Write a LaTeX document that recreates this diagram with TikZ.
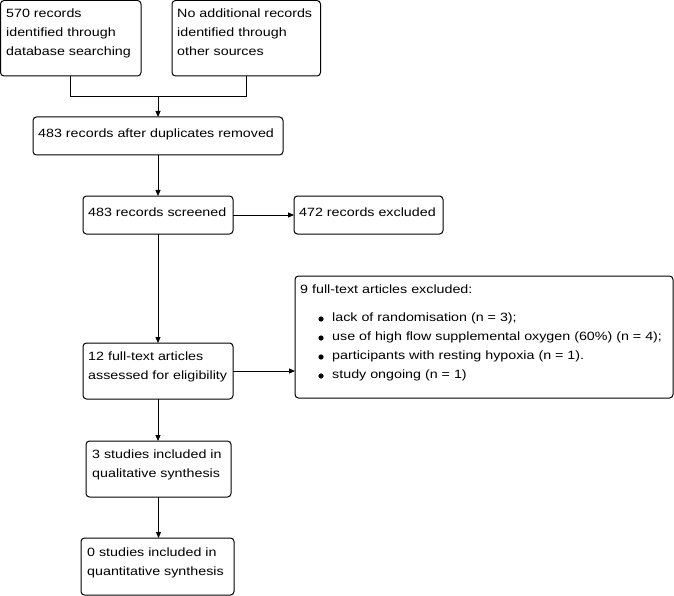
\documentclass[tikz,border=0pt]{standalone}
\usepackage{fontspec}
\setmainfont{Liberation Sans}[FakeStretch=1.19]
\usetikzlibrary{arrows.meta,calc}
\begin{document}
\begin{tikzpicture}[x=1pt,y=-1pt,
 box/.style={draw, line width=1pt, rounded corners=3.5pt, inner sep=0pt, outer sep=0pt, anchor=north west},
 txt/.style={inner sep=0pt, anchor=north west, align=left, font=\fontsize{12}{19}\selectfont,
   execute at begin node={\rule{0pt}{10pt}}},
 conn/.style={line width=1pt},
 arr/.style={line width=1pt, -{Triangle[length=6pt,width=5pt]}},
 bul/.style={fill=black}]
\useasboundingbox (0,0) rectangle (674,596);
% boxes
\node[box, minimum width=140.5pt, minimum height=75.5pt] (a) at (0.5,0.5) {};
\node[box, minimum width=148.5pt, minimum height=75.5pt] (b) at (172,0.5) {};
\node[box, minimum width=250pt, minimum height=38pt] (c) at (33,117) {};
\node[box, minimum width=150pt, minimum height=38pt] (d) at (83,196) {};
\node[box, minimum width=149pt, minimum height=38pt] (e) at (294,196) {};
\node[box, minimum width=150pt, minimum height=56pt] (f) at (83,343) {};
\node[box, minimum width=378pt, minimum height=122pt] (g) at (295,276) {};
\node[box, minimum width=145pt, minimum height=56pt] (h) at (86,441) {};
\node[box, minimum width=153pt, minimum height=57pt] (i) at (81,538) {};
% texts (first baseline = given y + 10)
\node[txt] (ta) at (6,9) {570 records\\identified through\\database searching};
\node[txt] (tb) at (177,9) {No additional records\\identified through\\other sources};
\node[txt] (tc) at (38,127) {483 records after duplicates removed};
\node[txt] (td) at (88,206) {483 records screened};
\node[txt] (te) at (299,206) {472 records excluded};
\node[txt] (tf) at (88,352) {12 full-text articles\\assessed for eligibility};
\node[txt] (tg) at (300,283) {9 full-text articles excluded:};
\node[txt] (tg1) at (332,313) {lack of randomisation (n = 3);\\use of high flow supplemental oxygen (60\%) (n = 4);\\participants with resting hypoxia (n = 1).\\study ongoing (n = 1)};
\node[txt] (th) at (92,450) {3 studies included in\\qualitative synthesis};
\node[txt] (ti) at (87,548) {0 studies included in\\quantitative synthesis};
% bullets
\foreach \yy in {323,342,361,380} \fill[bul] (321,\yy-4) circle (2.6pt);
% connectors
\coordinate (j) at (158,97);
\draw[conn] (a.south) -- (a.south |- j) -- (b.south |- j) -- (b.south);
\draw[arr] (j) -- (c.north);
\draw[arr] (c.south) -- (d.north);
\draw[arr] (d.east) -- (e.west);
\draw[arr] (d.south) -- (f.north);
\draw[arr] (f.east) -- (f.east -| g.west);
\draw[arr] (f.south) -- (f.south |- h.north);
\draw[arr] (h.south) -- (h.south |- i.north);
\end{tikzpicture}
\end{document}
